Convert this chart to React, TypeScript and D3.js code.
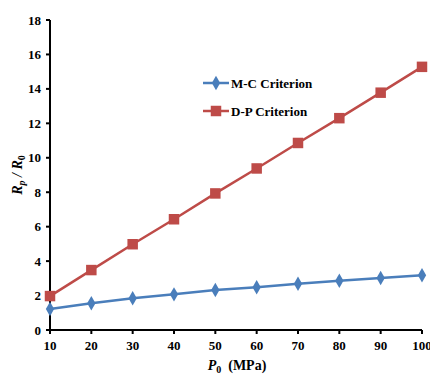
import * as d3 from 'd3';

const pressures = [10, 20, 30, 40, 50, 60, 70, 80, 90, 100];
const mcValues = [1.22, 1.55, 1.84, 2.07, 2.32, 2.48, 2.69, 2.86, 3.02, 3.18];
const dpValues = [1.97, 3.48, 4.98, 6.43, 7.93, 9.38, 10.86, 12.3, 13.78, 15.28];
const yTicks = [0, 2, 4, 6, 8, 10, 12, 14, 16, 18];

const W = 430;
const H = 376;
const margin = { top: 20, right: 8, bottom: 46, left: 50 };

const blue = '#4a7ebb';
const red = '#be4b48';
const font = "'Liberation Serif', 'Times New Roman', serif";

export default function App() {
  const x = d3.scaleLinear().domain([10, 100]).range([margin.left, W - margin.right]);
  const y = d3.scaleLinear().domain([0, 18]).range([H - margin.bottom, margin.top]);

  const line = d3
    .line<number>()
    .x((_, i) => x(pressures[i]))
    .y((d) => y(d));

  const diamond = d3.symbol(d3.symbolDiamond, 60)()!;
  const square = d3.symbol(d3.symbolSquare, 110)()!;

  const baseY = y(0);

  return (
    <svg
      width={W}
      height={H}
      style={{ position: 'absolute', left: 0, top: 0, background: '#fff', fontFamily: font }}
    >
      {/* axes */}
      <line x1={x(10)} x2={x(100)} y1={baseY} y2={baseY} stroke="#000" strokeWidth={2} />
      <line x1={x(10)} x2={x(10)} y1={y(18)} y2={baseY} stroke="#000" strokeWidth={2} />

      {yTicks.map((t) => (
        <g key={`y${t}`}>
          <line x1={x(10) - 4} x2={x(10)} y1={y(t)} y2={y(t)} stroke="#000" strokeWidth={2} />
          <text
            x={x(10) - 9}
            y={y(t)}
            dy="0.35em"
            textAnchor="end"
            fontSize={13}
            fontWeight="bold"
          >
            {t}
          </text>
        </g>
      ))}

      {pressures.map((p) => (
        <g key={`x${p}`}>
          <line x1={x(p)} x2={x(p)} y1={baseY} y2={baseY + 4} stroke="#000" strokeWidth={2} />
          <text x={x(p)} y={baseY + 20} textAnchor="middle" fontSize={13} fontWeight="bold">
            {p}
          </text>
        </g>
      ))}

      {/* axis titles */}
      <text x={237} y={370} textAnchor="middle" fontSize={14} fontWeight="bold">
        <tspan fontStyle="italic">P</tspan>
        <tspan fontSize={10} dy={3}>0</tspan>
        <tspan dy={-3}>{'\u00a0\u00a0(MPa)'}</tspan>
      </text>
      <text
        transform={`translate(22,${y(9)}) rotate(-90)`}
        textAnchor="middle"
        fontSize={14}
        fontWeight="bold"
        fontStyle="italic"
      >
        <tspan>R</tspan>
        <tspan fontSize={10} dy={3}>p</tspan>
        <tspan dy={-3}> / R</tspan>
        <tspan fontSize={10} dy={3} fontStyle="normal">0</tspan>
      </text>

      {/* series */}
      <path d={line(mcValues)!} fill="none" stroke={blue} strokeWidth={2.5} />
      <path d={line(dpValues)!} fill="none" stroke={red} strokeWidth={2.5} />
      {mcValues.map((v, i) => (
        <path key={`mc${i}`} d={diamond} transform={`translate(${x(pressures[i])},${y(v)})`} fill={blue} />
      ))}
      {dpValues.map((v, i) => (
        <path key={`dp${i}`} d={square} transform={`translate(${x(pressures[i])},${y(v)})`} fill={red} />
      ))}

      {/* legend */}
      <g transform="translate(203,83)">
        <line x1={0} x2={26} y1={0} y2={0} stroke={blue} strokeWidth={2.5} />
        <path d={diamond} transform="translate(13,0)" fill={blue} />
        <text x={28} y={0} dy="0.35em" fontSize={13} fontWeight="bold">
          M-C Criterion
        </text>
      </g>
      <g transform="translate(203,111)">
        <line x1={0} x2={26} y1={0} y2={0} stroke={red} strokeWidth={2.5} />
        <path d={square} transform="translate(13,0)" fill={red} />
        <text x={28} y={0} dy="0.35em" fontSize={13} fontWeight="bold">
          D-P Criterion
        </text>
      </g>
    </svg>
  );
}
